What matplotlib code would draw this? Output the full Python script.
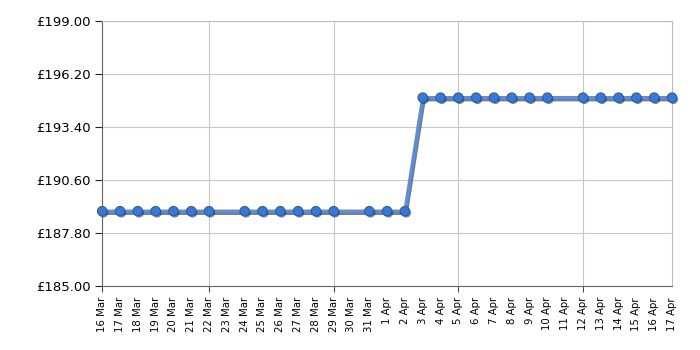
import matplotlib

matplotlib.use("Agg")
import matplotlib.pyplot as plt
import matplotlib.patheffects as pe
import pandas as pd

# price history (days without a reading are simply absent)
DATES = [
    "2024-03-16", "2024-03-17", "2024-03-18", "2024-03-19", "2024-03-20",
    "2024-03-21", "2024-03-22", "2024-03-24", "2024-03-25", "2024-03-26",
    "2024-03-27", "2024-03-28", "2024-03-29", "2024-03-31", "2024-04-01",
    "2024-04-02", "2024-04-03", "2024-04-04", "2024-04-05", "2024-04-06",
    "2024-04-07", "2024-04-08", "2024-04-09", "2024-04-10", "2024-04-12",
    "2024-04-13", "2024-04-14", "2024-04-15", "2024-04-16", "2024-04-17",
]
PRICES = [
    188.95, 188.95, 188.95, 188.95, 188.95,
    188.95, 188.95, 188.95, 188.95, 188.95,
    188.95, 188.95, 188.95, 188.95, 188.95,
    188.95, 194.95, 194.95, 194.95, 194.95,
    194.95, 194.95, 194.95, 194.95, 194.95,
    194.95, 194.95, 194.95, 194.95, 194.95,
]
TICK_LABELS = [
    "16 Mar", "17 Mar", "18 Mar", "19 Mar", "20 Mar", "21 Mar", "22 Mar",
    "23 Mar", "24 Mar", "25 Mar", "26 Mar", "27 Mar", "28 Mar", "29 Mar",
    "30 Mar", "31 Mar", "1 Apr", "2 Apr", "3 Apr", "4 Apr", "5 Apr",
    "6 Apr", "7 Apr", "8 Apr", "9 Apr", "10 Apr", "11 Apr", "12 Apr",
    "13 Apr", "14 Apr", "15 Apr", "16 Apr", "17 Apr",
]
GRID_LABELS = ["16 Mar", "22 Mar", "29 Mar", "5 Apr", "12 Apr"]
Y_TICKS = [185.0, 187.8, 190.6, 193.4, 196.2, 199.0]

start = pd.Timestamp(DATES[0])
x = [(pd.Timestamp(d) - start).days for d in DATES]
tick_pos = list(range(len(TICK_LABELS)))
grid_pos = [TICK_LABELS.index(g) for g in GRID_LABELS]

fig = plt.figure(figsize=(7, 3.5), dpi=100)
ax = fig.add_axes([0.146, 0.183, 0.814, 0.757])

line_fx = [pe.SimpleLineShadow(offset=(1.0, -1.5), shadow_color="#444444", alpha=0.7),
           pe.Normal()]
dot_fx = [pe.SimplePatchShadow(offset=(1.0, -1.2), shadow_rgbFace="#333333", alpha=0.6),
          pe.Normal()]
ax.plot(x, PRICES, color="#5a8fe0", linewidth=2.4, path_effects=line_fx, zorder=3)
ax.plot(x, PRICES, linestyle="none", marker="o", markersize=6.8,
        markerfacecolor="#3b78d4", markeredgecolor="#2b5ca8", markeredgewidth=0.8,
        path_effects=dot_fx, zorder=4, clip_on=False)

ax.set_xlim(0, len(TICK_LABELS) - 1)
ax.set_ylim(Y_TICKS[0], Y_TICKS[-1])
ax.set_yticks(Y_TICKS)
ax.set_yticklabels([f"£{v:.2f}" for v in Y_TICKS], fontsize=9.5)

ax.xaxis.remove_overlapping_locs = False
ax.set_xticks(tick_pos)
ax.set_xticklabels(TICK_LABELS, rotation=90, fontsize=7.3)
ax.set_xticks(grid_pos, minor=True)
ax.tick_params(axis="x", which="major", length=0, pad=8)
ax.tick_params(axis="x", which="minor", length=4, color="#222222")
ax.tick_params(axis="y", length=5, color="#222222")

ax.grid(True, axis="y", color="#c8c8c8", linewidth=0.8)
ax.grid(True, axis="x", which="minor", color="#c8c8c8", linewidth=0.8)
ax.grid(False, axis="x", which="major")

for side in ("top", "right"):
    ax.spines[side].set_color("#bbbbbb")
for side in ("left", "bottom"):
    ax.spines[side].set_color("#666666")

fig.savefig("out.png", dpi=100)
